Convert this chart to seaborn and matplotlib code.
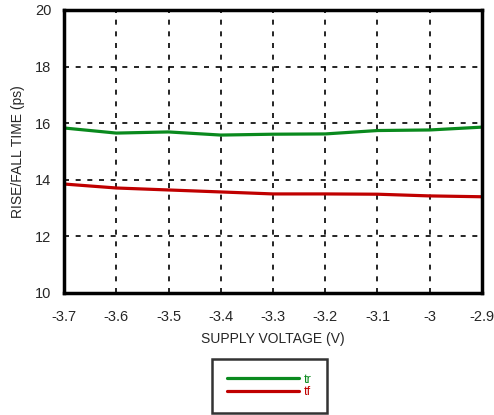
import seaborn as sns
from matplotlib import pyplot as plt
from matplotlib.ticker import MultipleLocator
import pandas as pd

voltage = [-3.7, -3.6, -3.5, -3.4, -3.3, -3.2, -3.1, -3.0, -2.9]
tr = [15.83, 15.65, 15.69, 15.58, 15.61, 15.62, 15.74, 15.76, 15.86]
tf = [13.85, 13.71, 13.64, 13.57, 13.50, 13.50, 13.49, 13.43, 13.40]
xticks = [-3.7, -3.6, -3.5, -3.4, -3.3, -3.2, -3.1, -3.0, -2.9]
xlabels = ['-3.7', '-3.6', '-3.5', '-3.4', '-3.3', '-3.2', '-3.1', '-3', '-2.9']

d = pd.DataFrame({'v': voltage * 2, 't': tr + tf, 's': ['tr'] * 9 + ['tf'] * 9})

sns.set_style('white')
plt.rcParams['font.family'] = ['Liberation Sans', 'DejaVu Sans']
fig = plt.figure(figsize=(4.94, 4.15), dpi=100)
ax = fig.add_axes([0.1296, 0.294, 0.846, 0.682])

sns.lineplot(data=d, x='v', y='t', hue='s', palette={'tr': '#0a8a1e', 'tf': '#c00000'},
             linewidth=2.3, ax=ax, legend=False)

ax.set_xlim(-3.7, -2.9)
ax.set_ylim(10, 20)
ax.set_xticks(xticks)
ax.set_xticklabels(xlabels)
ax.set_yticks([10, 12, 14, 16, 18, 20])
ax.yaxis.set_minor_locator(MultipleLocator(0.5))
ax.xaxis.set_minor_locator(MultipleLocator(0.05))
ax.tick_params(axis='both', which='major', direction='in', length=4, width=1.2, labelsize=10.5)
ax.tick_params(axis='x', which='major', pad=12)
ax.tick_params(axis='y', which='major', pad=9)
ax.tick_params(axis='both', which='minor', direction='in', length=2, width=1)
ax.grid(True, which='major', color='black', linestyle=(0, (3, 4)), linewidth=1.2)
for s in ax.spines.values():
    s.set_linewidth(2.5)
    s.set_color('black')
ax.set_xlabel('SUPPLY VOLTAGE (V)', fontsize=10, labelpad=6)
ax.set_ylabel('RISE/FALL TIME (ps)', fontsize=10, labelpad=7)

handles = ax.get_lines()[:2]
leg = fig.legend(handles, ['tr', 'tf'], loc='center', bbox_to_anchor=(0.545, 0.07),
                 frameon=True, fancybox=False, edgecolor='black', handlelength=5.8,
                 fontsize=9, labelcolor='linecolor', borderpad=1.2, handletextpad=0.4,
                 labelspacing=0.05, borderaxespad=0)
leg.get_frame().set_linewidth(1.8)

fig.savefig('out.png', dpi=100)
